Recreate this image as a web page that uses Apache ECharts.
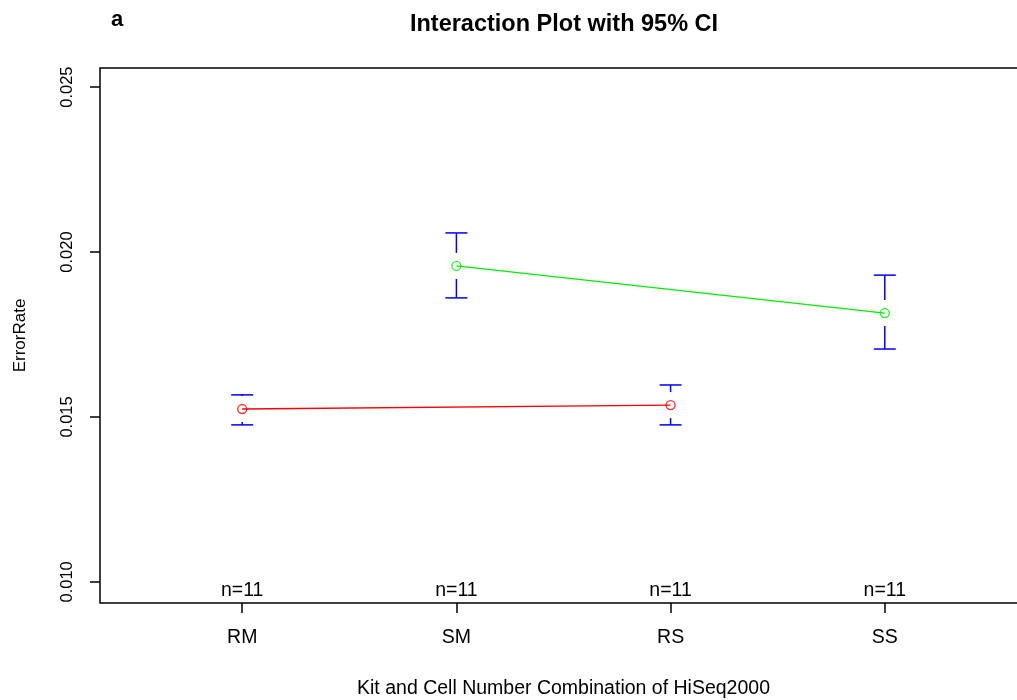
<!DOCTYPE html>
<html>
<head>
<meta charset="utf-8">
<script src="https://cdn.jsdelivr.net/npm/echarts@6/dist/echarts.min.js"></script>
<style>html,body{margin:0;padding:0;background:#fff}#c{width:1017px;height:700px}</style>
</head>
<body>
<div id="c"></div>
<script>
const categories = ['RM', 'SM', 'RS', 'SS'];
const means = [0.01524, 0.01958, 0.01536, 0.01815];
const upper = [0.01567, 0.02058, 0.01597, 0.01930];
const lower = [0.01476, 0.01861, 0.01476, 0.01706];
const counts = [11, 11, 11, 11];
const redGroup = [0, 2];   // RM, RS
const greenGroup = [1, 3]; // SM, SS
const yTicks = [0.010, 0.015, 0.020, 0.025];

const font = 'Liberation Sans, Arial, sans-serif';
const chart = echarts.init(document.getElementById('c'));

const ciData = categories.map((c, i) => [i + 1, means[i], upper[i], lower[i]]);
const nData = categories.map((c, i) => [i + 1, counts[i]]);

function lineData(idx) { return idx.map(i => [i + 1, means[i]]); }

chart.setOption({
  animation: false,
  backgroundColor: '#fff',
  title: [
    { text: 'Interaction Plot with 95% CI', left: 559, top: 8, textAlign: 'center',
      textStyle: { fontFamily: font, fontSize: 23.5, fontWeight: 'bold', color: '#000' } },
    { text: 'a', left: 106, top: 4,
      textStyle: { fontFamily: font, fontSize: 22, fontWeight: 'bold', color: '#000' } }
  ],
  grid: { left: 100, right: -10, top: 68, bottom: 97, outerBoundsMode: 'none', containLabel: false,
    show: true, borderColor: '#000', borderWidth: 1.5, backgroundColor: 'transparent' },
  xAxis: {
    type: 'value', min: 0.336, max: 4.664,
    name: 'Kit and Cell Number Combination of HiSeq2000', nameLocation: 'middle', nameGap: 76,
    nameTextStyle: { fontFamily: font, fontSize: 19.5, color: '#000' },
    axisLine: { show: false },
    splitLine: { show: false },
    axisTick: { show: true, length: 10, lineStyle: { color: '#000', width: 1.5 }, customValues: [1, 2, 3, 4] },
    axisLabel: { customValues: [1, 2, 3, 4], margin: 25, fontFamily: font, fontSize: 19.5, color: '#000',
      formatter: v => categories[Math.round(v) - 1] || '' }
  },
  yAxis: {
    type: 'value', min: 0.00936, max: 0.02558,
    name: 'ErrorRate', nameLocation: 'middle', nameGap: 71,
    nameTextStyle: { fontFamily: font, fontSize: 17, color: '#000' },
    axisLine: { show: false },
    splitLine: { show: false },
    axisTick: { show: true, length: 10, lineStyle: { color: '#000', width: 1.5 }, customValues: yTicks },
    axisLabel: { customValues: yTicks, rotate: 90, margin: 24, fontFamily: font, fontSize: 16.5, color: '#000',
      formatter: v => v.toFixed(3) }
  },
  series: [
    {
      type: 'line', data: lineData(redGroup), symbol: 'none',
      lineStyle: { color: '#ff0000', width: 1.4 }, z: 3
    },
    {
      type: 'line', data: lineData(greenGroup), symbol: 'none',
      lineStyle: { color: '#00ee00', width: 1.4 }, z: 3
    },
    {
      type: 'scatter', data: lineData(redGroup), symbol: 'circle', symbolSize: 9,
      itemStyle: { color: 'rgba(255,255,255,0)', borderColor: '#ff0000', borderWidth: 1.4 }, z: 5
    },
    {
      type: 'scatter', data: lineData(greenGroup), symbol: 'circle', symbolSize: 9,
      itemStyle: { color: 'rgba(255,255,255,0)', borderColor: '#00ee00', borderWidth: 1.4 }, z: 5
    },
    {
      type: 'custom', data: ciData, z: 2,
      renderItem: (params, api) => {
        const x = api.value(0);
        const m = api.coord([x, api.value(1)]);
        const u = api.coord([x, api.value(2)]);
        const l = api.coord([x, api.value(3)]);
        const hw = 11, gap = 13;
        const st = { stroke: '#0000ff', lineWidth: 1.5 };
        const children = [
          { type: 'line', shape: { x1: m[0] - hw, y1: u[1], x2: m[0] + hw, y2: u[1] }, style: st },
          { type: 'line', shape: { x1: m[0] - hw, y1: l[1], x2: m[0] + hw, y2: l[1] }, style: st }
        ];
        if (m[1] - gap > u[1]) children.push({ type: 'line', shape: { x1: m[0], y1: u[1], x2: m[0], y2: m[1] - gap }, style: st });
        if (m[1] + gap < l[1]) children.push({ type: 'line', shape: { x1: m[0], y1: m[1] + gap, x2: m[0], y2: l[1] }, style: st });
        return { type: 'group', children };
      }
    },
    {
      type: 'custom', data: nData, z: 4,
      renderItem: (params, api) => {
        const p = api.coord([api.value(0), 0.00936]);
        return { type: 'text', x: p[0], y: p[1] - 2,
          style: { text: 'n=' + api.value(1), textAlign: 'center', textVerticalAlign: 'bottom',
            font: '19.5px ' + font, fill: '#000' } };
      }
    }
  ]
});
</script>
</body>
</html>
